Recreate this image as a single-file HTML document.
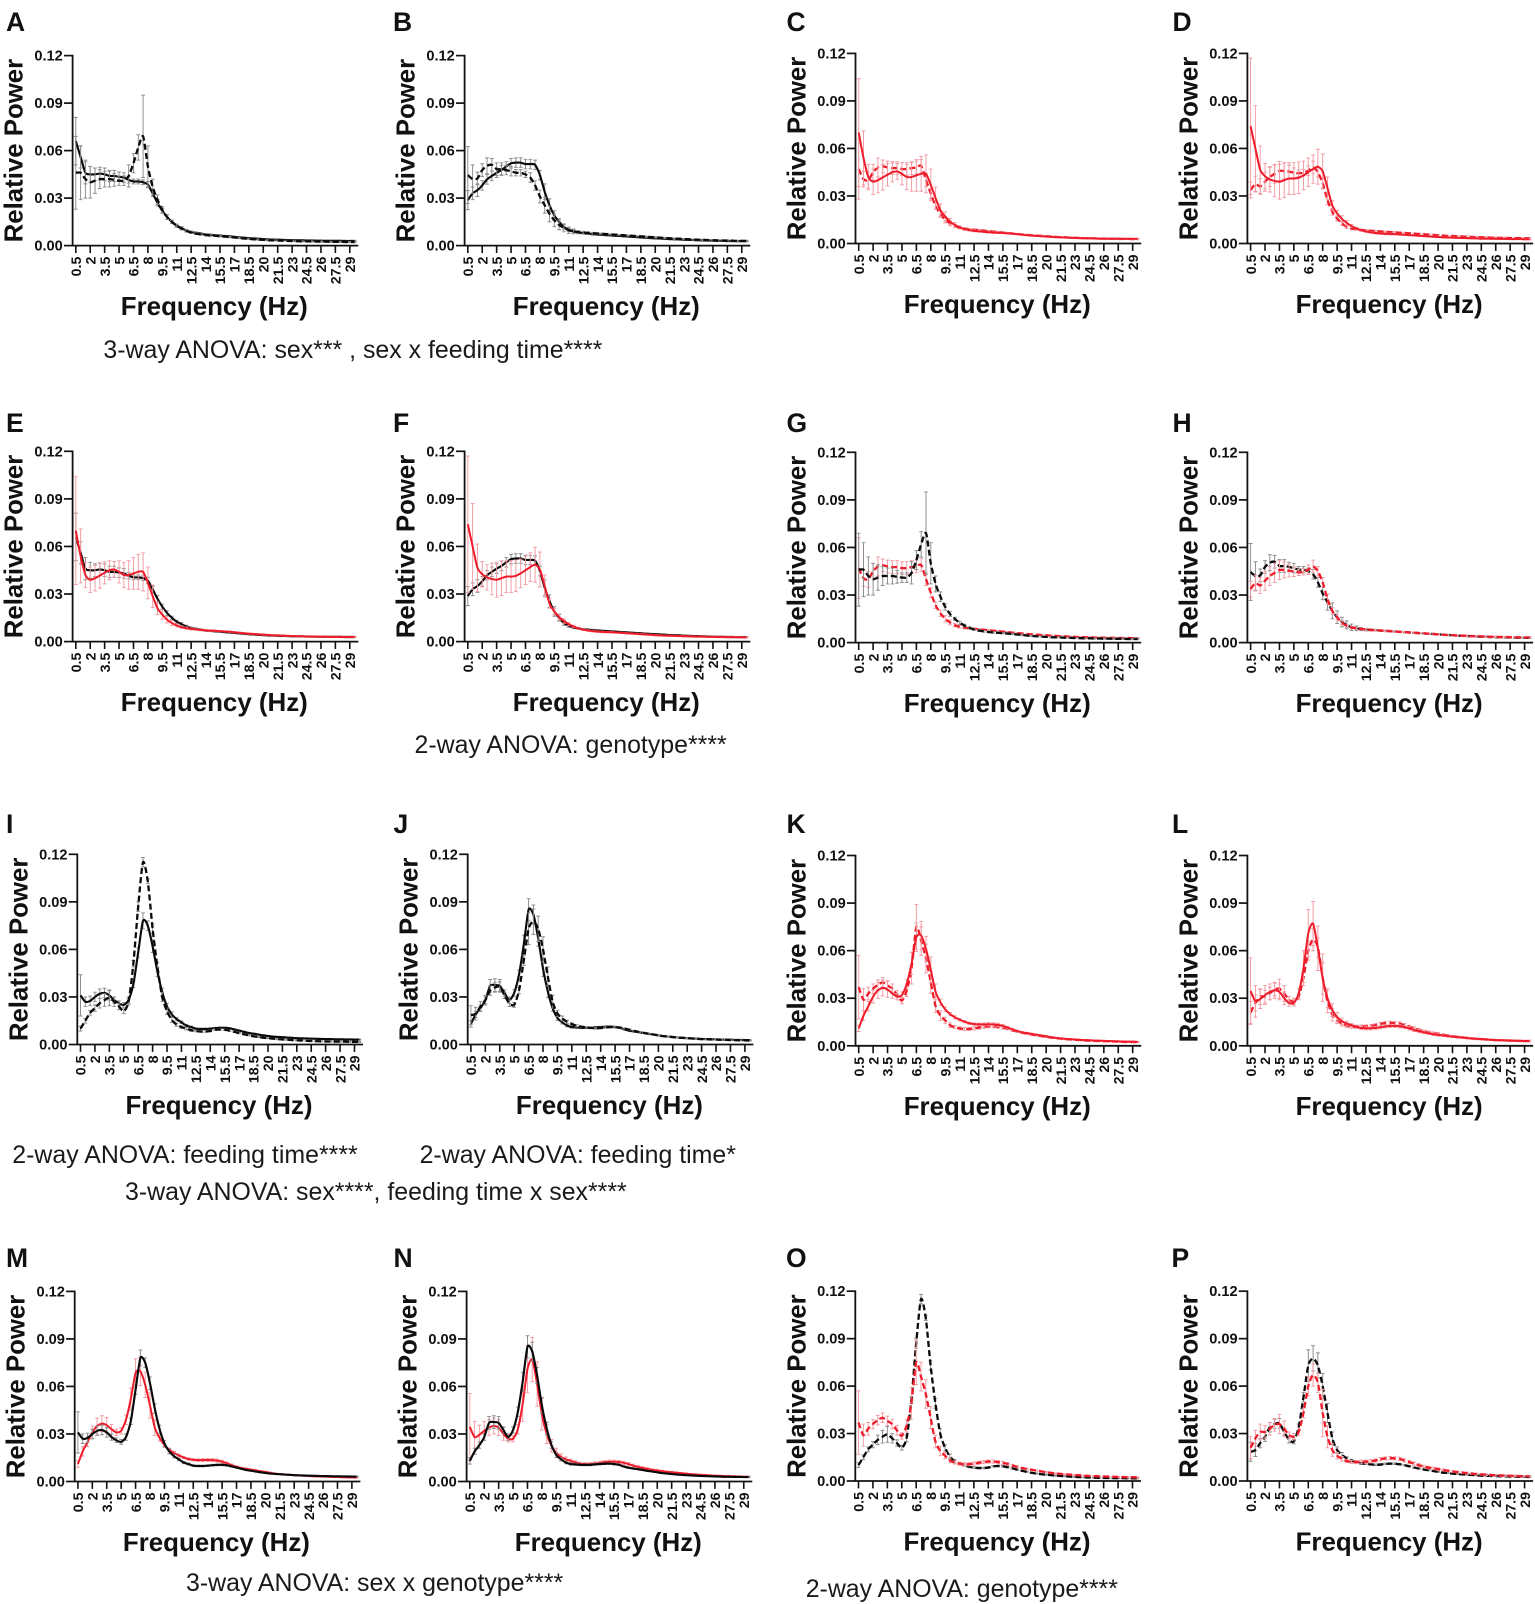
<!DOCTYPE html>
<html lang="en">
<head>
<meta charset="utf-8">
<title>Relative power spectra, panels A to P</title>
<style>
html,body{margin:0;padding:0;background:#fff;}
#page{position:relative;width:1535px;height:1604px;overflow:hidden;background:#fff;font-family:"Liberation Sans",Arial,sans-serif;filter:blur(.35px);}
#chart{position:absolute;left:0;top:0;}
.caption{position:absolute;font-size:24.9px;line-height:30px;white-space:nowrap;color:#1a1a1a;}
</style>
</head>
<body>
<div id="page">
<svg id="chart" width="1535" height="1604" viewBox="0 0 1535 1604"></svg>
<div class="caption" style="left:103.4px;top:335px">3-way ANOVA: sex*** , sex x feeding time****</div>
<div class="caption" style="left:414.5px;top:730px">2-way ANOVA: genotype****</div>
<div class="caption" style="left:12.3px;top:1140px">2-way ANOVA: feeding time****</div>
<div class="caption" style="left:419.6px;top:1140px">2-way ANOVA: feeding time*</div>
<div class="caption" style="left:125px;top:1176.5px">3-way ANOVA: sex****, feeding time x sex****</div>
<div class="caption" style="left:186px;top:1568px">3-way ANOVA: sex x genotype****</div>
<div class="caption" style="left:805.7px;top:1574px">2-way ANOVA: genotype****</div>
</div>
<script>
// Shared categories and tick labels
const frequencyHz = [0.5,1,1.5,2,2.5,3,3.5,4,4.5,5,5.5,6,6.5,7,7.5,8,8.5,9,9.5,10,10.5,11,11.5,12,12.5,13,13.5,14,14.5,15,15.5,16,16.5,17,17.5,18,18.5,19,19.5,20,20.5,21,21.5,22,22.5,23,23.5,24,24.5,25,25.5,26,26.5,27,27.5,28,28.5,29,29.5];
const xTickLabels = ["0.5","2","3.5","5","6.5","8","9.5","11","12.5","14","15.5","17","18.5","20","21.5","23","24.5","26","27.5","29"];
const yTickLabels = ["0.00","0.03","0.06","0.09","0.12"];
const xAxisTitle = "Frequency (Hz)";
const yAxisTitle = "Relative Power";

// Means, relative power x 1000
const blackSolidA = [66,56,46,45,45,45.5,45,44,44,43.5,43,41.5,40.5,40.5,40,38.5,33,27,22,18,15,12.5,11,9.5,8.5,8,7.5,7,6.8,6.5,6.3,6,5.8,5.5,5.2,5,4.7,4.5,4.3,4.1,3.9,3.8,3.7,3.6,3.5,3.4,3.3,3.3,3.2,3.2,3.1,3.1,3,3,3,3,2.9,2.9,2.9];
const blackDashedA = [46,46,42,40,41,42,42,42,41.5,41,41,44,52,62,69,50,37,29,22.5,18,15,12.5,10.8,9.3,8.3,7.6,7.1,6.7,6.4,6.2,5.9,5.7,5.4,5.1,4.8,4.5,4.2,4,3.8,3.6,3.4,3.3,3.2,3.1,3,2.9,2.8,2.7,2.7,2.6,2.6,2.5,2.5,2.4,2.4,2.4,2.3,2.3,2.3];
const blackSolidB = [28.7,33,35,38,41.8,44,46,47.7,50,52,52.4,52.4,51.5,51.5,51,44.5,34,25.5,19,15,11.8,10,9,8.2,7.8,7.5,7.2,7,6.8,6.6,6.4,6.2,6,5.8,5.6,5.4,5.2,5,4.8,4.6,4.5,4.3,4.1,4,3.9,3.7,3.6,3.5,3.4,3.3,3.2,3.1,3,3,2.9,2.9,2.8,2.8,2.8];
const blackDashedB = [44.5,42,42.4,47.7,50.4,51,48.3,48.3,47.7,47,46,46,45,43,38,31,25.5,20,16,13,11.2,9.7,9,8.5,8.2,8,7.8,7.6,7.4,7.2,7,6.8,6.6,6.4,6.2,6,5.8,5.6,5.4,5.2,5,4.8,4.6,4.4,4.3,4.1,4,3.8,3.7,3.6,3.5,3.4,3.3,3.2,3.2,3.1,3,3,3];
const redSolidC = [70,54,42,39,40,41.7,43.4,45,45.5,44,42,42,43,44,44,37,28.6,21,17,13.8,11.7,10.2,9.1,8.5,8,7.7,7.4,7.1,6.9,6.8,6.6,6.4,6.2,5.9,5.6,5.3,5,4.8,4.6,4.4,4.2,4,3.9,3.8,3.6,3.5,3.4,3.3,3.2,3.2,3.1,3.1,3,3,3,2.9,2.9,2.9,2.9];
const redDashedC = [47,40.6,40,45,48,48.7,48,47.6,47.6,47,47,47.6,48,49,40,31.5,23.5,18.5,15,12.7,11,10,9.4,9,8.7,8.4,8.1,7.8,7.5,7.2,6.9,6.6,6.3,6,5.7,5.4,5.2,5,4.8,4.6,4.4,4.2,4,3.9,3.7,3.6,3.5,3.4,3.3,3.2,3.1,3.1,3,3,2.9,2.9,2.9,2.8,2.8];
const redSolidD = [74,60,46.5,42.5,40.5,39.5,39,40,41,41,41.5,43,45,47,48.5,45.5,35,24,19,15.5,13,11,9.5,8.4,7.6,7,6.6,6.3,6.1,6,5.9,5.7,5.5,5.3,5.1,4.9,4.7,4.5,4.3,4.1,3.9,3.8,3.7,3.6,3.5,3.4,3.3,3.2,3.1,3.1,3,3,2.9,2.9,2.8,2.8,2.8,2.7,2.7];
const redDashedD = [33.7,37.5,36,39,42,44,45.8,45.8,45.4,44.7,44.3,44.7,46,48,45,38,27.4,20,15.8,12.7,10.5,9.5,9,8.6,8.3,8,7.8,7.6,7.4,7.2,7,6.8,6.6,6.4,6.2,6,5.8,5.6,5.4,5.2,5,4.8,4.7,4.5,4.4,4.3,4.1,4,3.9,3.8,3.7,3.6,3.5,3.5,3.4,3.4,3.3,3.3,3.3];
const blackSolidI = [31,27,27.5,30,32,32.5,31,28,26,25,28,38,58,78,75,62,46,33,24,19,16,14,12,11,10,9.8,9.8,10,10.3,10.5,10.5,10.2,9.5,8.8,8,7.3,6.8,6.3,5.8,5.4,5,4.8,4.6,4.4,4.2,4,3.9,3.8,3.7,3.6,3.5,3.4,3.4,3.3,3.3,3.2,3.2,3.1,3.1];
const blackDashedI = [10,15,20,23,26,28,29.5,27,24,21,27,51,87,115,103,73,49,30,21,15.5,12.5,11,10,9,8.5,8.2,8.2,8.5,9.3,9.5,9.3,8.8,8,7.2,6.5,5.8,5.2,4.7,4.3,4,3.7,3.4,3.2,3,2.8,2.6,2.5,2.3,2.2,2.1,2,1.9,1.9,1.8,1.8,1.8,1.7,1.7,1.7];
const blackSolidJ = [13,19,23,28,37,37.5,37,32.5,28,32.5,44,63,85,82,67,48,33.5,23,16.7,14,12,11,10.8,10.5,10.5,10.5,10.8,11,11.2,11.3,11,10.6,9.5,8.7,8.2,7.8,7.2,6.7,6.3,5.8,5.3,5,4.7,4.4,4.2,4,3.8,3.7,3.5,3.4,3.3,3.2,3.1,3,3,2.9,2.9,2.8,2.8];
const blackDashedJ = [18.5,19.5,24,28,34,36,36.5,31,26,25,34,53,73,77.5,73,60,43,27,19.6,16.5,14.3,12.9,11.8,11.2,10.8,10.5,10.2,10.4,10.8,11,10.9,10.6,10,9.3,8.5,7.9,7.3,6.8,6.3,5.8,5.3,5,4.7,4.4,4.2,4,3.8,3.6,3.4,3.3,3.2,3.1,3,2.9,2.8,2.7,2.6,2.6,2.5];
const redSolidK = [11,19,25,31,35,36.5,35.5,33,31,32,39,52,68.5,69.5,61,48,34,27.5,23,20,18,16.5,15.2,14.2,13.7,13.5,13.5,13.6,13.5,13.2,12.5,11.5,10.3,9.3,8.5,8,7.5,7,6.5,6,5.5,5,4.7,4.4,4.2,4,3.8,3.6,3.5,3.3,3.2,3.1,3,2.9,2.8,2.7,2.6,2.6,2.5];
const redDashedK = [37,29,33,36,38.5,40,38,36,32,28.5,35,49,75,66,55,40,25,19,16,13,11.7,11,10.6,10.6,11,11.5,12,12.3,12.3,12,11.5,10.8,9.8,9,8.2,7.6,7.1,6.6,6.1,5.6,5.2,4.8,4.5,4.2,4,3.8,3.6,3.4,3.2,3.1,3,2.9,2.8,2.7,2.6,2.5,2.4,2.4,2.3];
const redSolidL = [34.5,28,29.5,32,34,35,34,30,27,27,33,49,71,77,61.5,42.5,30,22.5,18,15.5,14,13,12,11.2,11,11,11.3,11.7,12.2,12.5,12.5,12.3,11.8,11,10,9.2,8.5,7.9,7.3,6.9,6.5,6.1,5.8,5.5,5.2,4.9,4.6,4.4,4.2,4,3.8,3.6,3.5,3.4,3.3,3.2,3.1,3,3];
const redDashedL = [21,27,31,31,33,35.5,36,33,29,28,31,43,60,67,62,43,28,19.6,16,14,12.6,12,12,12.2,12.2,12.5,13,13.8,14.3,14.5,14.3,14,13,12,11,10,9.2,8.5,8,7.5,7,6.5,6,5.7,5.3,5,4.7,4.4,4.2,4,3.8,3.6,3.5,3.4,3.3,3.2,3.1,3,3];

// Error half-widths, same units
const blackSolidAErr = [15,7,7,5,4,4,4,3.5,3.5,3,3,2,1.5,1.5,1.5,2,2,2,1.5,1.5,1,1,1,.8,.7,.6,.6,.5,.5,.5,.5,.5,.5,.4,.4,.4,.4,.4,.4,.4,.4,.4,.4,.4,.4,.4,.4,.4,.4,.4,.4,.4,.4,.4,.4,.4,.4,.4,.4];
const blackDashedAErr = [23,17,12,10,8,6,5,5,4,3,3,7,6,8,26,13,5,3,2,1.5,1,1,.8,.7,.6,.6,.5,.5,.5,.5,.4,.4,.4,.4,.4,.4,.4,.4,.4,.4,.4,.4,.4,.4,.4,.4,.4,.4,.4,.4,.4,.4,.4,.4,.4,.4,.4,.4,.4];
const blackSolidBErr = [6,4,4,3,3,3,3,3,3,3,3,3,3,3,3,3,5,4,3,2,1.5,1,.8,.6,.5,.5,.5,.4,.4,.4,.4,.4,.4,.4,.4,.4,.4,.4,.4,.4,.4,.4,.4,.4,.4,.4,.4,.4,.4,.4,.4,.4,.4,.4,.4,.4,.4,.4,.4];
const blackDashedBErr = [18,9,4,4,5,4,4,4,3,3,2,2,2,3,3,4,5,5,4,3,2.5,2,1.5,1,.8,.7,.6,.5,.5,.5,.4,.4,.4,.4,.4,.4,.4,.4,.4,.4,.4,.4,.4,.4,.4,.4,.4,.4,.4,.4,.4,.4,.4,.4,.4,.4,.4,.4,.4];
const redSolidCErr = [34,17,8,8,8,8,7,6,5,7,8,9,10,11,12,10,7,4,3,2,1.5,1,.8,.7,.6,.5,.5,.5,.5,.5,.4,.4,.4,.4,.4,.4,.4,.4,.4,.4,.4,.4,.4,.4,.4,.4,.4,.4,.4,.4,.4,.4,.4,.4,.4,.4,.4,.4,.4];
const redDashedCErr = [19,5,5,5,6,4,4,4,4,4,4,4,4,4,4,3,2,2,2,1.5,1,.8,.7,.6,.5,.5,.5,.5,.5,.5,.4,.4,.4,.4,.4,.4,.4,.4,.4,.4,.4,.4,.4,.4,.4,.4,.4,.4,.4,.4,.4,.4,.4,.4,.4,.4,.4,.4,.4];
const redSolidDErr = [43,27,15,8,8,10,11,11,10,10,10,9,9,9,11,11,7,3,2,2,1.5,1,.8,.7,.6,.5,.5,.5,.5,.5,.4,.4,.4,.4,.4,.4,.4,.4,.4,.4,.4,.4,.4,.4,.4,.4,.4,.4,.4,.4,.4,.4,.4,.4,.4,.4,.4,.4,.4];
const redDashedDErr = [5,5,5,6,6,6,6,5,4,3,2,2,3,4,3,3,3,2,1.5,1.2,1,.8,.7,.6,.5,.5,.5,.5,.5,.5,.5,.5,.5,.5,.5,.5,.5,.5,.5,.5,.5,.5,.5,.5,.5,.5,.5,.5,.5,.5,.5,.5,.5,.5,.5,.5,.5,.5,.5];
const blackSolidIErr = [13,3,3,3,3,3,3,2,1.5,1.5,2,2,3,5,3,4,3,2.5,2,1.5,1,.8,.7,.6,.5,.5,.5,.5,.5,.5,.5,.5,.4,.4,.4,.3,.3,.3,.3,.3,.3,.3,.3,.3,.3,.3,.3,.3,.3,.3,.3,.3,.3,.3,.3,.3,.3,.3,.3];
const blackDashedIErr = [1.5,1.5,1.5,2,3,4,5,3,2,1.5,2,2,3,3,1.5,3,3,3,2,1.5,1,.8,.7,.6,.5,.5,.5,.5,.5,.5,.5,.5,.4,.4,.4,.3,.3,.3,.3,.3,.3,.3,.3,.3,.3,.3,.3,.3,.3,.3,.3,.3,.3,.3,.3,.3,.3,.3,.3];
const blackSolidJErr = [2,2,2,2,4,4,4,2,2,2,3,6,7,6,5,5,4,2,1.5,1,.8,.7,.6,.5,.5,.5,.5,.5,.5,.5,.5,.5,.4,.4,.4,.3,.3,.3,.3,.3,.3,.3,.3,.3,.3,.3,.3,.3,.3,.3,.3,.3,.3,.3,.3,.3,.3,.3,.3];
const blackDashedJErr = [6,4,3,3,3,3,3,2,2,1.5,2,3,10,8,8,8,6,4,2,1.5,1,.8,.7,.6,.5,.5,.5,.5,.5,.5,.5,.5,.4,.4,.4,.3,.3,.3,.3,.3,.3,.3,.3,.3,.3,.3,.3,.3,.3,.3,.3,.3,.3,.3,.3,.3,.3,.3,.3];
const redSolidKErr = [2,3,3,4,5,5,5,3,2,2,3,7,9,9,8,8,5,2,1.5,1,1,.8,.7,.7,.7,.8,1,1,1,1,1,.8,.7,.6,.5,.5,.4,.4,.4,.4,.3,.3,.3,.3,.3,.3,.3,.3,.3,.3,.3,.3,.3,.3,.3,.3,.3,.3,.3];
const redDashedKErr = [20,7,4,3,3,3,3,3,3,2,4,10,14,9,9,7,4,3,2,1.5,1,1,1,1,1,1,1,1,1,1,1,.8,.7,.6,.5,.5,.4,.4,.4,.4,.3,.3,.3,.3,.3,.3,.3,.3,.3,.3,.3,.3,.3,.3,.3,.3,.3,.3,.3];
const redSolidLErr = [21,10,6,6,5,5,5,4,2,2,3,11,15,14,14,10,6,4,3,2,1.5,1,1,1,1,1,1,1,1,1,1,1,1,1,1,1,.8,.8,.8,.8,.6,.6,.6,.6,.6,.6,.5,.5,.5,.5,.5,.5,.5,.5,.5,.5,.5,.5,.5];
const redDashedLErr = [7,5,5,4,4,4,6,5,2,2,2,3,6,7,6,15,7,4,2,1.5,1,1,1,1,1,1,1,1,1,1,1,1,1,1,1,1,.8,.8,.8,.8,.6,.6,.6,.6,.6,.6,.5,.5,.5,.5,.5,.5,.5,.5,.5,.5,.5,.5,.5];

// Panel membership: which series each panel plots, in drawing order
const panelSeries = {
  A:[["blackSolid",blackSolidA,blackSolidAErr],["blackDashed",blackDashedA,blackDashedAErr]],
  B:[["blackSolid",blackSolidB,blackSolidBErr],["blackDashed",blackDashedB,blackDashedBErr]],
  C:[["redDashed",redDashedC,redDashedCErr],["redSolid",redSolidC,redSolidCErr]],
  D:[["redDashed",redDashedD,redDashedDErr],["redSolid",redSolidD,redSolidDErr]],
  E:[["blackSolid",blackSolidA,blackSolidAErr],["redSolid",redSolidC,redSolidCErr]],
  F:[["blackSolid",blackSolidB,blackSolidBErr],["redSolid",redSolidD,redSolidDErr]],
  G:[["redDashed",redDashedC,redDashedCErr],["blackDashed",blackDashedA,blackDashedAErr]],
  H:[["blackDashed",blackDashedB,blackDashedBErr],["redDashed",redDashedD,redDashedDErr]],
  I:[["blackSolid",blackSolidI,blackSolidIErr],["blackDashed",blackDashedI,blackDashedIErr]],
  J:[["blackSolid",blackSolidJ,blackSolidJErr],["blackDashed",blackDashedJ,blackDashedJErr]],
  K:[["redDashed",redDashedK,redDashedKErr],["redSolid",redSolidK,redSolidKErr]],
  L:[["redDashed",redDashedL,redDashedLErr],["redSolid",redSolidL,redSolidLErr]],
  M:[["redSolid",redSolidK,redSolidKErr],["blackSolid",blackSolidI,blackSolidIErr]],
  N:[["redSolid",redSolidL,redSolidLErr],["blackSolid",blackSolidJ,blackSolidJErr]],
  O:[["blackDashed",blackDashedI,blackDashedIErr],["redDashed",redDashedK,redDashedKErr]],
  P:[["blackDashed",blackDashedJ,blackDashedJErr],["redDashed",redDashedL,redDashedLErr]]
};

// Page layout of each panel frame: letter, letter x, letter baseline, axis x, plot top, plot bottom
const panelLayout = [
  ["A",6,31,72.6,55.6,245.6],["B",393,31,464.6,55.6,245.6],["C",786.5,31,855.5,53.4,243.5],["D",1172.5,31,1247.4,53.4,243.5],
  ["E",6,432,72.6,451.3,641.6],["F",393,432,464.6,451.3,641.6],["G",786.5,432,855.5,452.3,642.6],["H",1172.5,432,1247.4,452.3,642.6],
  ["I",6,833,77.3,854.3,1044.5],["J",393.5,833,467.7,854.3,1044.5],["K",786.5,833,855.5,855.5,1045.8],["L",1172,833,1247.4,855.5,1045.8],
  ["M",6,1267,74.7,1291.4,1481.5],["N",393.5,1267,466.6,1291.4,1481.5],["O",786,1267,855.3,1291.2,1481],["P",1171.5,1267,1247.4,1291.2,1481]
];

const svgNS = "http://www.w3.org/2000/svg";
const chart = document.getElementById("chart");
const RED = "#ee1c2a", RED_ERR = "#f39aa2", BLACK = "#0a0a0a", BLACK_ERR = "#8a8a8a";

function add(parent, tag, attrs, text) {
  const el = document.createElementNS(svgNS, tag);
  for (const k in attrs) el.setAttribute(k, attrs[k]);
  if (text !== undefined) el.textContent = text;
  parent.appendChild(el);
  return el;
}

function smoothPath(pts) {
  let d = "M" + pts[0][0].toFixed(2) + " " + pts[0][1].toFixed(2);
  for (let i = 0; i < pts.length - 1; i++) {
    const p0 = pts[Math.max(i - 1, 0)], p1 = pts[i], p2 = pts[i + 1], p3 = pts[Math.min(i + 2, pts.length - 1)];
    const t = 0.12;
    d += " C" + (p1[0] + (p2[0] - p0[0]) * t).toFixed(2) + " " + (p1[1] + (p2[1] - p0[1]) * t).toFixed(2) +
         " " + (p2[0] - (p3[0] - p1[0]) * t).toFixed(2) + " " + (p2[1] - (p3[1] - p1[1]) * t).toFixed(2) +
         " " + p2[0].toFixed(2) + " " + p2[1].toFixed(2);
  }
  return d;
}

panelLayout.forEach(function (layout) {
  const letter = layout[0], letterX = layout[1], letterY = layout[2], axisX = layout[3], top = layout[4], bottom = layout[5];
  const firstTick = axisX + 3.2;
  const tickStep = 14.42;
  const xScale = function (hz) { return firstTick + (hz - 0.5) / 1.5 * tickStep; };
  const yScale = function (milli) { return bottom - milli / 120 * (bottom - top); };
  const lc = letter.toLowerCase();

  const g = add(chart, "g", {});
  
  

  const label = add(g, "text", {x: letterX, y: letterY, "font-size": 26.5, "font-weight": 700, "font-family": '"Liberation Sans",sans-serif', fill: "#111"}, letter);
  
  

  // Series error bars then lines
  panelSeries[letter].forEach(function (series) {
    const kind = series[0], values = series[1], errs = series[2];
    const isRed = kind.indexOf("red") === 0, isDashed = kind.indexOf("Dashed") > 0;
    const sg = add(g, "g", {});
    
    
    let bars = "";
    values.forEach(function (v, i) {
      const x = xScale(frequencyHz[i]);
      const hi = yScale(v + errs[i]), lo = yScale(Math.max(v - errs[i], 0));
      bars += "M" + x.toFixed(2) + " " + hi.toFixed(2) + "V" + lo.toFixed(2) +
              "M" + (x - 1.9).toFixed(2) + " " + hi.toFixed(2) + "H" + (x + 1.9).toFixed(2) +
              "M" + (x - 1.9).toFixed(2) + " " + lo.toFixed(2) + "H" + (x + 1.9).toFixed(2);
    });
    const eb = add(sg, "path", {d: bars, fill: "none", stroke: isRed ? RED_ERR : BLACK_ERR, "stroke-width": 0.95});
    
    
    const pts = values.map(function (v, i) { return [xScale(frequencyHz[i]), yScale(v)]; });
    const attrs = {d: smoothPath(pts), fill: "none", stroke: isRed ? RED : BLACK, "stroke-width": isDashed ? 2.3 : (isRed ? 2 : 2.15), "stroke-linejoin": "round"};
    if (isDashed) attrs["stroke-dasharray"] = "6 3.2";
    const ln = add(sg, "path", attrs);
    
    
  });

  // Y axis
  const yg = add(g, "g", {});
  
  
  add(yg, "line", {x1: axisX, x2: axisX, y1: top - 0.8, y2: bottom + 0.8, stroke: "#111", "stroke-width": 1.8});
  yTickLabels.forEach(function (t) {
    const y = yScale(parseFloat(t) * 1000);
    add(yg, "line", {x1: axisX - 8.6, x2: axisX, y1: y, y2: y, stroke: "#111", "stroke-width": 1.7});
    add(yg, "text", {x: axisX - 9.8, y: y + 5, "text-anchor": "end", "font-size": 14.6, "font-weight": 700, "font-family": '"Liberation Sans",sans-serif', fill: "#111"}, t);
  });
  const yt = add(yg, "text", {transform: "translate(" + (axisX - 50) + " " + ((top + bottom) / 2) + ") rotate(-90)", "text-anchor": "middle", "font-size": 25.8, "font-weight": 700, "font-family": '"Liberation Sans",sans-serif', fill: "#111"}, yAxisTitle);
  
  

  // X axis
  const xg = add(g, "g", {});
  
  
  add(xg, "line", {x1: axisX, x2: firstTick + 282.5, y1: bottom, y2: bottom, stroke: "#111", "stroke-width": 1.8});
  xTickLabels.forEach(function (t) {
    const x = xScale(parseFloat(t));
    add(xg, "line", {x1: x, x2: x, y1: bottom, y2: bottom + 7.4, stroke: "#111", "stroke-width": 1.6});
    add(xg, "text", {transform: "translate(" + (x + 5.2) + " " + (bottom + 11) + ") rotate(-90)", "text-anchor": "end", "font-size": 14.2, "font-weight": 700, "font-family": '"Liberation Sans",sans-serif', fill: "#111"}, t);
  });
  const xt = add(xg, "text", {x: axisX + 141.7, y: bottom + 69.4, "text-anchor": "middle", "font-size": 25.9, "font-weight": 700, "font-family": '"Liberation Sans",sans-serif', fill: "#111"}, xAxisTitle);
  
  
});
</script>
</body>
</html>
